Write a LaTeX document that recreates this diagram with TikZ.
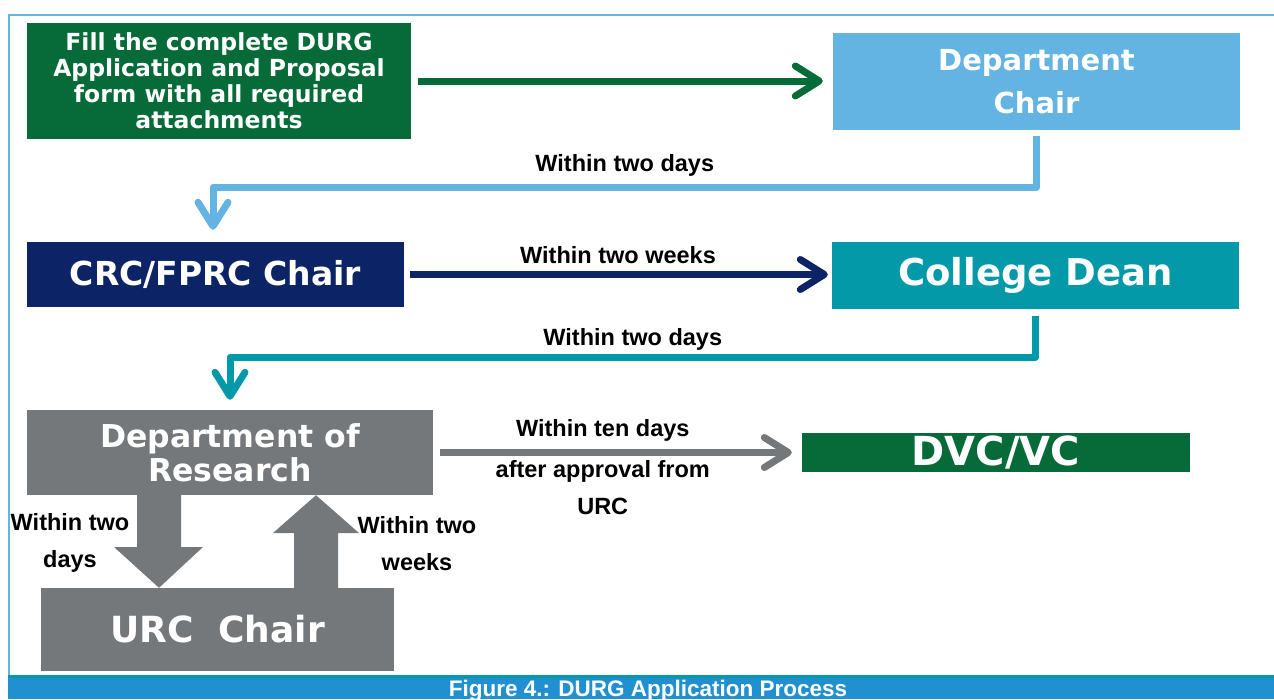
\documentclass[tikz,border=0pt]{standalone}
\usepackage{fontspec}
\setmainfont{Liberation Sans}
\newfontfamily\boxfont{DejaVu Sans}
\usetikzlibrary{arrows.meta}
\definecolor{durggreen}{HTML}{066B38}
\definecolor{chairblue}{HTML}{63B3E3}
\definecolor{crcnavy}{HTML}{0C2466}
\definecolor{deanteal}{HTML}{0499A8}
\definecolor{resgray}{HTML}{75787B}
\definecolor{bandblue}{HTML}{2090D0}
\tikzset{
  stage/.style={
      rectangle,
      inner sep=0pt,
      align=center,
      text=white
  },
  pts/.style 2 args={font=\boxfont\bfseries\fontsize{#1}{#2}\selectfont},
  flow/.style={
      line width=7pt,
      line join=round,
      -{Straight Barb[length=24pt,width=30pt,round]}
  },
  note/.style={
      inner sep=1pt,
      align=center,
      text=black,
      font=\bfseries\fontsize{23.5}{37}\selectfont
  }
}
\begin{document}
\begin{tikzpicture}[x=1pt,y=-1pt]
    \useasboundingbox (0,0) rectangle (1274,699);
    % frame and caption band
    \draw[line width=2pt,chairblue] (9,675) -- (9,15) -- (1274,15);
    \fill[bandblue] (8,675) rectangle (1274,699);
    \fill[deanteal] (8,675) rectangle (1274,678);
    \node[anchor=base,text=white,font=\bfseries\fontsize{22.5}{27}\selectfont] (caption) at (648,696) {Figure 4.: DURG Application Process};

    \node[stage,fill=durggreen,minimum width=384pt,minimum height=116pt,pts={23.5}{26}] (form) at (219,81) {Fill the complete DURG\\Application and Proposal\\form with all required\\attachments};
    \node[stage,fill=chairblue,minimum width=407pt,minimum height=97pt,pts={29}{43}] (dept) at (1036.5,81.5) {Department\\Chair};
    \node[stage,fill=crcnavy,minimum width=377pt,minimum height=65pt,pts={33}{35}] (crc) at (215.5,274.5) {CRC/FPRC Chair};
    \node[stage,fill=deanteal,minimum width=407pt,minimum height=67pt,pts={37}{43}] (dean) at (1035.5,275.5) {College Dean};
    \node[stage,fill=resgray,minimum width=406pt,minimum height=85pt,pts={31.5}{34}] (research) at (230,452.5) {Department of\\Research};
    \node[stage,fill=durggreen,minimum width=388pt,minimum height=39pt,pts={40}{43}] (dvc) at (996,452.5) {DVC/VC};
    \node[stage,fill=resgray,minimum width=353pt,minimum height=83pt,pts={36}{43}] (urc) at (217.5,629.5) {URC\ \ Chair};

    \draw[flow,durggreen,shorten <=7pt,shorten >=10pt] (form.east) -- (form.east -| dept.west);
    \draw[flow,chairblue,shorten <=6pt,shorten >=12pt] (dept.south) |- node[note,above=6pt,pos=0.75] {Within two days} (213,187) -- (213,0 |- crc.north);
    \draw[flow,crcnavy,shorten <=6pt,shorten >=4pt] (crc.east) -- node[note,above=6pt] {Within two weeks} (crc.east -| dean.west);
    \draw[flow,deanteal,shorten <=7pt,shorten >=10pt] (dean.south) |- node[note,above=2pt,pos=0.75] {Within two days} (230,357) -- (230,0 |- research.north);
    \draw[flow,resgray,shorten <=7pt,shorten >=10pt] (research.east) -- node[note,above=7pt,pos=0.46] {Within ten days} node[note,below=3pt,pos=0.46] {after approval from\\URC} (dvc.west);

    % block arrows between research and urc
    \fill[resgray] (137,0 |- research.south) -- (137,547) -- (114,547) -- (159,0 |- urc.north) -- (203,547) -- (181,547) -- (181,0 |- research.south) -- cycle;
    \fill[resgray] (294,0 |- urc.north) -- (294,533) -- (273,533) -- (316,0 |- research.south) -- (359,533) -- (338,533) -- (338,0 |- urc.north) -- cycle;
    \node[note] (downnote) at (70,543) {Within two\\days};
    \node[note] (upnote) at (417,543.5) {Within two\\weeks};
\end{tikzpicture}
\end{document}
